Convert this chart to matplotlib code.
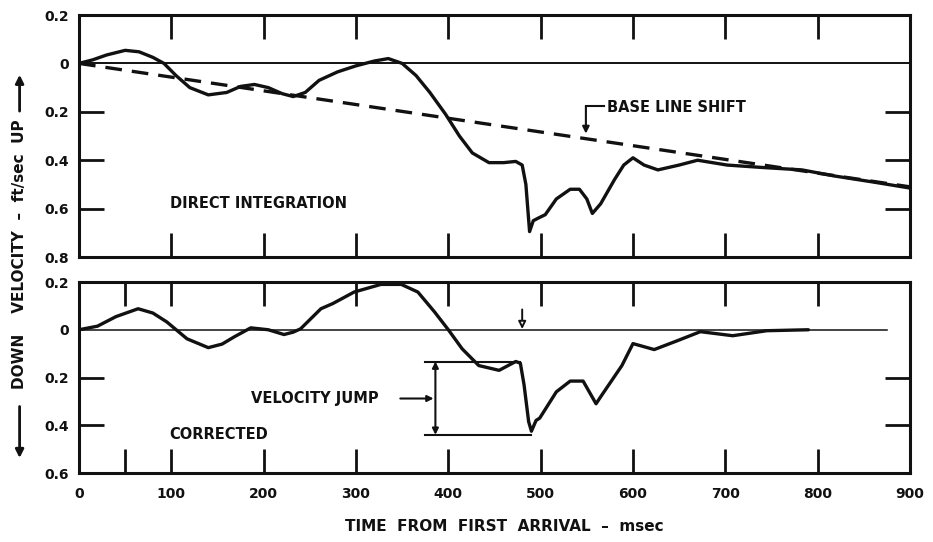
import matplotlib
matplotlib.use("Agg")
import matplotlib.pyplot as plt
from matplotlib.ticker import FixedLocator

# ---- data (time in msec, velocity in ft/sec, up positive) ----
direct_t = [0, 15, 30, 50, 65, 80, 92, 105, 120, 140, 160, 175, 190, 205, 220,
            232, 245, 260, 280, 300, 320, 335, 350, 365, 380, 397, 412, 426,
            444, 460, 473, 480, 484, 488, 492, 497, 505, 517, 532, 542, 550,
            556, 565, 580, 590, 600, 612, 627, 650, 670, 702, 740, 783, 818,
            860, 900]
direct_v = [0.0, 0.015, 0.035, 0.054, 0.048, 0.025, 0.0, -0.05, -0.10, -0.13,
            -0.12, -0.095, -0.087, -0.10, -0.125, -0.137, -0.12, -0.07, -0.035,
            -0.01, 0.01, 0.02, 0.0, -0.05, -0.12, -0.21, -0.30, -0.37, -0.41,
            -0.41, -0.405, -0.42, -0.50, -0.695, -0.65, -0.64, -0.625, -0.56,
            -0.52, -0.52, -0.56, -0.62, -0.58, -0.48, -0.42, -0.39, -0.42,
            -0.44, -0.42, -0.40, -0.42, -0.43, -0.44, -0.465, -0.49, -0.515]

baseline_t = [0, 900]
baseline_v = [0.0, -0.51]

corrected_t = [0, 20, 40, 64, 80, 95, 117, 140, 155, 168, 186, 205, 222, 232,
               240, 262, 275, 298, 327, 349, 367, 385, 400, 415, 433, 455, 473,
               478, 482, 487, 490, 495, 499, 517, 532, 546, 560, 566, 588, 600,
               623, 648, 673, 708, 745, 790]
corrected_v = [0.0, 0.015, 0.055, 0.088, 0.07, 0.033, -0.038, -0.075, -0.06,
               -0.03, 0.008, 0.0, -0.02, -0.01, 0.004, 0.088, 0.11, 0.158, 0.19,
               0.19, 0.158, 0.075, 0.0, -0.08, -0.15, -0.17, -0.133, -0.14,
               -0.23, -0.385, -0.425, -0.38, -0.37, -0.26, -0.215, -0.215,
               -0.31, -0.275, -0.15, -0.058, -0.083, -0.046, -0.008, -0.025,
               -0.004, 0.0]

x_ticks = [0, 100, 200, 300, 400, 500, 600, 700, 800, 900]
x_labels = ["0", "100", "200", "300", "400", "500", "600", "700", "800", "900"]
top_yticks = [0.2, 0.0, -0.2, -0.4, -0.6, -0.8]
top_ylabels = ["0.2", "0", "0.2", "0.4", "0.6", "0.8"]
bot_yticks = [0.2, 0.0, -0.2, -0.4, -0.6]
bot_ylabels = ["0.2", "0", "0.2", "0.4", "0.6"]

# velocity-jump bracket levels and the marker time
jump_top, jump_bottom = -0.133, -0.44
jump_marker_t = 480

INK = "#111111"
FONT = dict(family="DejaVu Sans", weight="bold", color=INK)

fig = plt.figure(figsize=(9.33, 5.42), dpi=100)
fig.patch.set_facecolor("white")

ax1 = fig.add_axes([0.0847, 0.5258, 0.8906, 0.4465])
ax2 = fig.add_axes([0.0847, 0.1273, 0.8906, 0.3524])


def style_axes(ax, yticks, ylabels, ylim, inner_y, xticks_inner, show_xlabels):
    ax.set_xlim(0, 900)
    ax.set_ylim(*ylim)
    ax.xaxis.remove_overlapping_locs = False
    ax.yaxis.remove_overlapping_locs = False
    for sp in ax.spines.values():
        sp.set_linewidth(2.2)
        sp.set_color(INK)
    ax.set_yticks(yticks)
    ax.set_yticklabels(ylabels, fontsize=10, fontweight="bold", color=INK)
    ax.tick_params(axis="y", which="major", length=0, pad=7)
    ax.yaxis.set_minor_locator(FixedLocator(inner_y))
    ax.tick_params(axis="y", which="minor", direction="in", length=18,
                   width=2.0, left=True, right=True, color=INK)
    ax.set_xticks(x_ticks)
    if show_xlabels:
        ax.set_xticklabels(x_labels, fontsize=10, fontweight="bold", color=INK)
    else:
        ax.set_xticklabels([])
    ax.tick_params(axis="x", which="major", length=0, pad=10)
    ax.xaxis.set_minor_locator(FixedLocator(xticks_inner))
    ax.tick_params(axis="x", which="minor", direction="in", length=17,
                   width=2.0, top=True, bottom=True, color=INK)


style_axes(ax1, top_yticks, top_ylabels, (-0.8, 0.2), [-0.2, -0.4, -0.6],
           [100, 200, 300, 400, 500, 600, 700, 800], False)
style_axes(ax2, bot_yticks, bot_ylabels, (-0.6, 0.2), [-0.2, -0.4],
           [50, 100, 200, 300, 400, 500, 600, 700, 800], True)

# ---- upper panel: direct integration with base line shift ----
ax1.axhline(0, color=INK, lw=1.4, zorder=1)
ax1.plot(baseline_t, baseline_v, color=INK, lw=2.4, ls=(0, (5, 3)), zorder=2)
ax1.plot(direct_t, direct_v, color=INK, lw=2.4, solid_joinstyle="round",
         solid_capstyle="round", zorder=3)

ax1.text(98, -0.578, "DIRECT INTEGRATION", fontsize=10.5, ha="left",
         va="center", **FONT)
ax1.text(572, -0.183, "BASE LINE SHIFT", fontsize=10.5, ha="left",
         va="center", **FONT)
ax1.plot([549, 569], [-0.178, -0.178], color=INK, lw=1.5)
ax1.annotate("", xy=(549, -0.29), xytext=(549, -0.176),
             arrowprops=dict(arrowstyle="-|>", color=INK, lw=1.5,
                             mutation_scale=10, shrinkA=0, shrinkB=0))

# ---- lower panel: corrected record ----
ax2.plot([0, 875], [0, 0], color=INK, lw=1.1, zorder=1)
ax2.plot(corrected_t, corrected_v, color=INK, lw=2.4, solid_joinstyle="round",
         solid_capstyle="round", zorder=3)

ax2.text(98, -0.44, "CORRECTED", fontsize=10.5, ha="left", va="center", **FONT)
ax2.text(186, -0.288, "VELOCITY JUMP", fontsize=10.5, ha="left", va="center",
         **FONT)
ax2.annotate("", xy=(384, -0.288), xytext=(348, -0.288),
             arrowprops=dict(arrowstyle="-|>", color=INK, lw=1.5,
                             mutation_scale=9, shrinkA=0, shrinkB=0))
ax2.plot([375, 478], [jump_top, jump_top], color=INK, lw=1.5)
ax2.plot([375, 490], [jump_bottom, jump_bottom], color=INK, lw=1.5)
ax2.annotate("", xy=(386, jump_top), xytext=(386, jump_bottom),
             arrowprops=dict(arrowstyle="<|-|>", color=INK, lw=1.5,
                             mutation_scale=9, shrinkA=0, shrinkB=0))
ax2.annotate("", xy=(jump_marker_t, 0.003), xytext=(jump_marker_t, 0.085),
             arrowprops=dict(arrowstyle="-|>", color=INK, fc="white", lw=1.4,
                             mutation_scale=11, shrinkA=0, shrinkB=0))

# ---- axis titles ----
fig.text(0.021, 0.531, "DOWN    VELOCITY  \u2013  ft/sec  UP",
         rotation=90, ha="center", va="center", fontsize=11, **FONT)
arrow_kw = dict(arrowstyle="-|>", color=INK, lw=2.0, mutation_scale=12,
                shrinkA=0, shrinkB=0)
fig.add_artist(plt.Annotation("", xy=(0.021, 0.862), xytext=(0.021, 0.795),
                              xycoords="figure fraction",
                              textcoords="figure fraction",
                              arrowprops=arrow_kw))
fig.add_artist(plt.Annotation("", xy=(0.021, 0.155), xytext=(0.021, 0.250),
                              xycoords="figure fraction",
                              textcoords="figure fraction",
                              arrowprops=arrow_kw))
fig.text(0.541, 0.028, "TIME  FROM  FIRST  ARRIVAL  \u2013  msec",
         ha="center", va="center", fontsize=11, **FONT)

fig.savefig("out.png", dpi=100, facecolor="white")
